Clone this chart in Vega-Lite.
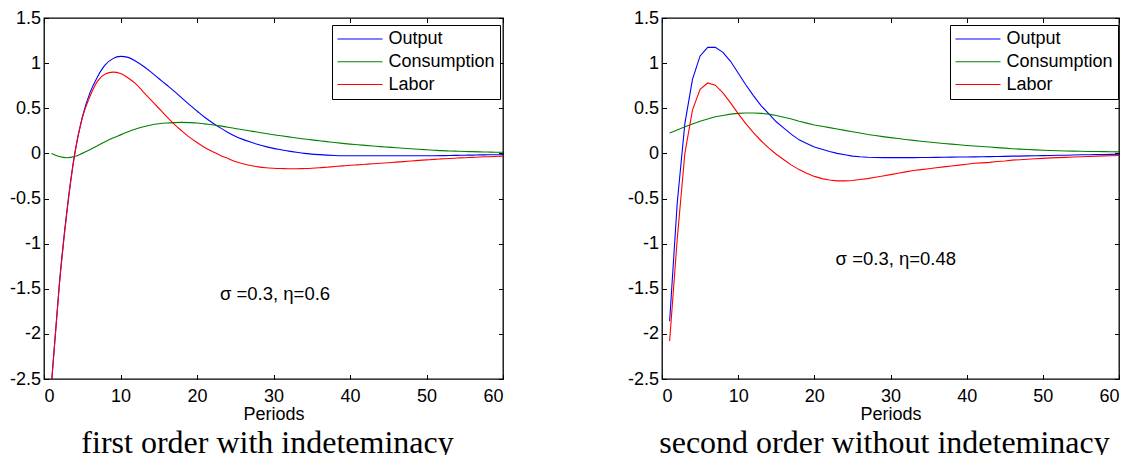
{
  "$schema": "https://vega.github.io/schema/vega-lite/v6.json",
  "background": "white",
  "padding": {"left": 8, "top": 8, "right": 5, "bottom": 0},
  "datasets": {
    "first": [
      {"p":1,"Output":-2.52,"Consumption":0.0,"Labor":-2.53},
      {"p":2,"Output":-1.45,"Consumption":-0.035,"Labor":-1.47},
      {"p":3,"Output":-0.63,"Consumption":-0.048,"Labor":-0.65},
      {"p":4,"Output":-0.01,"Consumption":-0.035,"Labor":-0.02},
      {"p":5,"Output":0.40,"Consumption":0.0,"Labor":0.39},
      {"p":6,"Output":0.67,"Consumption":0.04,"Labor":0.63},
      {"p":7,"Output":0.85,"Consumption":0.085,"Labor":0.80},
      {"p":8,"Output":0.98,"Consumption":0.13,"Labor":0.88},
      {"p":9,"Output":1.05,"Consumption":0.17,"Labor":0.90},
      {"p":10,"Output":1.075,"Consumption":0.205,"Labor":0.885},
      {"p":11,"Output":1.064,"Consumption":0.24,"Labor":0.835},
      {"p":12,"Output":1.02,"Consumption":0.27,"Labor":0.77},
      {"p":13,"Output":0.965,"Consumption":0.295,"Labor":0.68},
      {"p":14,"Output":0.90,"Consumption":0.315,"Labor":0.59},
      {"p":15,"Output":0.83,"Consumption":0.328,"Labor":0.50},
      {"p":16,"Output":0.76,"Consumption":0.336,"Labor":0.41},
      {"p":17,"Output":0.69,"Consumption":0.341,"Labor":0.325},
      {"p":18,"Output":0.615,"Consumption":0.343,"Labor":0.25},
      {"p":19,"Output":0.54,"Consumption":0.341,"Labor":0.18},
      {"p":20,"Output":0.47,"Consumption":0.337,"Labor":0.12},
      {"p":21,"Output":0.40,"Consumption":0.327,"Labor":0.065},
      {"p":22,"Output":0.34,"Consumption":0.318,"Labor":0.02},
      {"p":23,"Output":0.285,"Consumption":0.305,"Labor":-0.02},
      {"p":24,"Output":0.235,"Consumption":0.29,"Labor":-0.055},
      {"p":25,"Output":0.19,"Consumption":0.276,"Labor":-0.09},
      {"p":26,"Output":0.155,"Consumption":0.262,"Labor":-0.115},
      {"p":27,"Output":0.125,"Consumption":0.248,"Labor":-0.135},
      {"p":28,"Output":0.098,"Consumption":0.234,"Labor":-0.15},
      {"p":29,"Output":0.075,"Consumption":0.22,"Labor":-0.16},
      {"p":30,"Output":0.055,"Consumption":0.207,"Labor":-0.165},
      {"p":31,"Output":0.04,"Consumption":0.195,"Labor":-0.168},
      {"p":32,"Output":0.025,"Consumption":0.183,"Labor":-0.17},
      {"p":33,"Output":0.012,"Consumption":0.171,"Labor":-0.17},
      {"p":34,"Output":0.0,"Consumption":0.16,"Labor":-0.168},
      {"p":35,"Output":-0.008,"Consumption":0.15,"Labor":-0.165},
      {"p":36,"Output":-0.014,"Consumption":0.14,"Labor":-0.16},
      {"p":37,"Output":-0.019,"Consumption":0.13,"Labor":-0.153},
      {"p":38,"Output":-0.023,"Consumption":0.12,"Labor":-0.146},
      {"p":39,"Output":-0.026,"Consumption":0.111,"Labor":-0.139},
      {"p":40,"Output":-0.027,"Consumption":0.103,"Labor":-0.132},
      {"p":41,"Output":-0.027,"Consumption":0.096,"Labor":-0.127},
      {"p":42,"Output":-0.027,"Consumption":0.089,"Labor":-0.121},
      {"p":43,"Output":-0.027,"Consumption":0.082,"Labor":-0.115},
      {"p":44,"Output":-0.027,"Consumption":0.075,"Labor":-0.11},
      {"p":45,"Output":-0.027,"Consumption":0.069,"Labor":-0.104},
      {"p":46,"Output":-0.027,"Consumption":0.063,"Labor":-0.097},
      {"p":47,"Output":-0.027,"Consumption":0.057,"Labor":-0.091},
      {"p":48,"Output":-0.027,"Consumption":0.051,"Labor":-0.084},
      {"p":49,"Output":-0.027,"Consumption":0.045,"Labor":-0.078},
      {"p":50,"Output":-0.027,"Consumption":0.04,"Labor":-0.072},
      {"p":51,"Output":-0.026,"Consumption":0.035,"Labor":-0.066},
      {"p":52,"Output":-0.025,"Consumption":0.03,"Labor":-0.061},
      {"p":53,"Output":-0.024,"Consumption":0.027,"Labor":-0.056},
      {"p":54,"Output":-0.022,"Consumption":0.024,"Labor":-0.052},
      {"p":55,"Output":-0.02,"Consumption":0.021,"Labor":-0.048},
      {"p":56,"Output":-0.019,"Consumption":0.019,"Labor":-0.044},
      {"p":57,"Output":-0.017,"Consumption":0.017,"Labor":-0.04},
      {"p":58,"Output":-0.016,"Consumption":0.015,"Labor":-0.037},
      {"p":59,"Output":-0.015,"Consumption":0.013,"Labor":-0.034},
      {"p":60,"Output":-0.014,"Consumption":0.012,"Labor":-0.031}
    ],
    "second": [
      {"p":1,"Output":-1.86,"Consumption":0.226,"Labor":-2.08},
      {"p":2,"Output":-0.55,"Consumption":0.26,"Labor":-0.95},
      {"p":3,"Output":0.33,"Consumption":0.295,"Labor":0.0},
      {"p":4,"Output":0.82,"Consumption":0.325,"Labor":0.48},
      {"p":5,"Output":1.08,"Consumption":0.355,"Labor":0.71},
      {"p":6,"Output":1.175,"Consumption":0.38,"Labor":0.78},
      {"p":7,"Output":1.175,"Consumption":0.405,"Labor":0.755},
      {"p":8,"Output":1.12,"Consumption":0.42,"Labor":0.67},
      {"p":9,"Output":1.02,"Consumption":0.435,"Labor":0.56},
      {"p":10,"Output":0.89,"Consumption":0.443,"Labor":0.44},
      {"p":11,"Output":0.76,"Consumption":0.448,"Labor":0.33},
      {"p":12,"Output":0.64,"Consumption":0.447,"Labor":0.23},
      {"p":13,"Output":0.53,"Consumption":0.443,"Labor":0.14},
      {"p":14,"Output":0.44,"Consumption":0.435,"Labor":0.06},
      {"p":15,"Output":0.35,"Consumption":0.42,"Labor":-0.01},
      {"p":16,"Output":0.28,"Consumption":0.40,"Labor":-0.07},
      {"p":17,"Output":0.21,"Consumption":0.38,"Labor":-0.13},
      {"p":18,"Output":0.15,"Consumption":0.355,"Labor":-0.18},
      {"p":19,"Output":0.11,"Consumption":0.335,"Labor":-0.22},
      {"p":20,"Output":0.07,"Consumption":0.315,"Labor":-0.255},
      {"p":21,"Output":0.045,"Consumption":0.30,"Labor":-0.28},
      {"p":22,"Output":0.02,"Consumption":0.285,"Labor":-0.295},
      {"p":23,"Output":0.0,"Consumption":0.27,"Labor":-0.305},
      {"p":24,"Output":-0.015,"Consumption":0.255,"Labor":-0.305},
      {"p":25,"Output":-0.03,"Consumption":0.24,"Labor":-0.30},
      {"p":26,"Output":-0.038,"Consumption":0.225,"Labor":-0.29},
      {"p":27,"Output":-0.043,"Consumption":0.21,"Labor":-0.28},
      {"p":28,"Output":-0.045,"Consumption":0.198,"Labor":-0.265},
      {"p":29,"Output":-0.047,"Consumption":0.186,"Labor":-0.25},
      {"p":30,"Output":-0.047,"Consumption":0.175,"Labor":-0.235},
      {"p":31,"Output":-0.047,"Consumption":0.164,"Labor":-0.22},
      {"p":32,"Output":-0.047,"Consumption":0.154,"Labor":-0.205},
      {"p":33,"Output":-0.047,"Consumption":0.144,"Labor":-0.19},
      {"p":34,"Output":-0.046,"Consumption":0.135,"Labor":-0.18},
      {"p":35,"Output":-0.045,"Consumption":0.126,"Labor":-0.17},
      {"p":36,"Output":-0.044,"Consumption":0.118,"Labor":-0.16},
      {"p":37,"Output":-0.043,"Consumption":0.11,"Labor":-0.15},
      {"p":38,"Output":-0.042,"Consumption":0.102,"Labor":-0.14},
      {"p":39,"Output":-0.041,"Consumption":0.095,"Labor":-0.13},
      {"p":40,"Output":-0.04,"Consumption":0.088,"Labor":-0.12},
      {"p":41,"Output":-0.039,"Consumption":0.082,"Labor":-0.11},
      {"p":42,"Output":-0.037,"Consumption":0.076,"Labor":-0.105},
      {"p":43,"Output":-0.036,"Consumption":0.07,"Labor":-0.1},
      {"p":44,"Output":-0.034,"Consumption":0.064,"Labor":-0.09},
      {"p":45,"Output":-0.033,"Consumption":0.058,"Labor":-0.085},
      {"p":46,"Output":-0.031,"Consumption":0.052,"Labor":-0.075},
      {"p":47,"Output":-0.03,"Consumption":0.047,"Labor":-0.07},
      {"p":48,"Output":-0.028,"Consumption":0.043,"Labor":-0.065},
      {"p":49,"Output":-0.026,"Consumption":0.039,"Labor":-0.06},
      {"p":50,"Output":-0.025,"Consumption":0.035,"Labor":-0.055},
      {"p":51,"Output":-0.023,"Consumption":0.032,"Labor":-0.05},
      {"p":52,"Output":-0.021,"Consumption":0.029,"Labor":-0.047},
      {"p":53,"Output":-0.02,"Consumption":0.027,"Labor":-0.044},
      {"p":54,"Output":-0.018,"Consumption":0.025,"Labor":-0.04},
      {"p":55,"Output":-0.016,"Consumption":0.023,"Labor":-0.037},
      {"p":56,"Output":-0.015,"Consumption":0.021,"Labor":-0.034},
      {"p":57,"Output":-0.013,"Consumption":0.02,"Labor":-0.031},
      {"p":58,"Output":-0.012,"Consumption":0.019,"Labor":-0.028},
      {"p":59,"Output":-0.011,"Consumption":0.018,"Labor":-0.026},
      {"p":60,"Output":-0.01,"Consumption":0.017,"Labor":-0.024}
    ]
  },
  "bounds": "flush",
  "spacing": 159,
  "hconcat": [
    {
      "width": 459,
      "height": 361,
      "title": {"text": "first order with indeteminacy", "orient": "bottom", "font": "Liberation Serif", "fontSize": 32, "fontWeight": "normal", "color": "black", "dx": -6, "offset": 4},
      "data": {"name": "first"},
      "transform": [{"fold": ["Output", "Consumption", "Labor"], "as": ["series", "value"]}],
      "layer": [
        {
          "mark": {"type": "line", "strokeWidth": 1.1, "clip": true, "interpolate": "monotone"},
          "encoding": {
            "x": {"field": "p", "type": "quantitative", "scale": {"domain": [0, 60], "nice": false},
                  "axis": {"orient": "bottom", "values": [0,10,20,30,40,50,60], "title": "Periods", "labelPadding": 13}},
            "y": {"field": "value", "type": "quantitative", "scale": {"domain": [-2.5, 1.5], "nice": false, "zero": false},
                  "axis": {"orient": "left", "values": [-2.5,-2,-1.5,-1,-0.5,0,0.5,1,1.5], "title": null, "labelPadding": 8,
                           "labelExpr": "datum.value < 0 ? '-' + format(-datum.value, '~g') : format(datum.value, '~g')"}},
            "color": {"field": "series", "type": "nominal",
                      "scale": {"domain": ["Output", "Consumption", "Labor"], "range": ["#0000ff", "#008000", "#ff0000"]},
                      "legend": {"orient": "none", "legendX": 288, "legendY": 7, "title": null}}
          }
        },
        {
          "data": {"values": [{"label": "σ =0.3, η=0.6", "p": 30.2, "value": -1.56}]},
          "mark": {"type": "text", "font": "Liberation Sans", "fontSize": 18.5, "color": "black"},
          "encoding": {
            "x": {"field": "p", "type": "quantitative", "axis": null},
            "y": {"field": "value", "type": "quantitative", "axis": null},
            "text": {"field": "label"}
          }
        },
        {
          "mark": {"type": "point", "opacity": 0},
          "encoding": {
            "x": {"field": "p", "type": "quantitative",
                  "axis": {"orient": "top", "values": [0,10,20,30,40,50,60], "labels": false, "title": null}},
            "y": {"field": "value", "type": "quantitative",
                  "axis": {"orient": "right", "values": [-2.5,-2,-1.5,-1,-0.5,0,0.5,1,1.5], "labels": false, "title": null}}
          }
        }
      ],
      "resolve": {"axis": {"x": "independent", "y": "independent"}}
    },
    {
      "width": 457,
      "height": 361,
      "title": {"text": "second order without indeteminacy", "orient": "bottom", "font": "Liberation Serif", "fontSize": 32, "fontWeight": "normal", "color": "black", "dx": -6, "offset": 4},
      "data": {"name": "second"},
      "transform": [{"fold": ["Output", "Consumption", "Labor"], "as": ["series", "value"]}],
      "layer": [
        {
          "mark": {"type": "line", "strokeWidth": 1.1, "clip": true},
          "encoding": {
            "x": {"field": "p", "type": "quantitative", "scale": {"domain": [0, 60], "nice": false},
                  "axis": {"orient": "bottom", "values": [0,10,20,30,40,50,60], "title": "Periods", "labelPadding": 13}},
            "y": {"field": "value", "type": "quantitative", "scale": {"domain": [-2.5, 1.5], "nice": false, "zero": false},
                  "axis": {"orient": "left", "values": [-2.5,-2,-1.5,-1,-0.5,0,0.5,1,1.5], "title": null, "labelPadding": 8,
                           "labelExpr": "datum.value < 0 ? '-' + format(-datum.value, '~g') : format(datum.value, '~g')"}},
            "color": {"field": "series", "type": "nominal",
                      "scale": {"domain": ["Output", "Consumption", "Labor"], "range": ["#0000ff", "#008000", "#ff0000"]},
                      "legend": {"orient": "none", "legendX": 288, "legendY": 7, "title": null}}
          }
        },
        {
          "data": {"values": [{"label": "σ =0.3, η=0.48", "p": 30.7, "value": -1.17}]},
          "mark": {"type": "text", "font": "Liberation Sans", "fontSize": 18.5, "color": "black"},
          "encoding": {
            "x": {"field": "p", "type": "quantitative", "axis": null},
            "y": {"field": "value", "type": "quantitative", "axis": null},
            "text": {"field": "label"}
          }
        },
        {
          "mark": {"type": "point", "opacity": 0},
          "encoding": {
            "x": {"field": "p", "type": "quantitative",
                  "axis": {"orient": "top", "values": [0,10,20,30,40,50,60], "labels": false, "title": null}},
            "y": {"field": "value", "type": "quantitative",
                  "axis": {"orient": "right", "values": [-2.5,-2,-1.5,-1,-0.5,0,0.5,1,1.5], "labels": false, "title": null}}
          }
        }
      ],
      "resolve": {"axis": {"x": "independent", "y": "independent"}}
    }
  ],
  "resolve": {"scale": {"color": "independent"}, "legend": {"color": "independent"}},
  "config": {
    "font": "Liberation Sans",
    "view": {"stroke": "black", "strokeWidth": 1.3},
    "axis": {
      "domain": false, "grid": false,
      "tickSize": -4.5, "tickColor": "black", "tickWidth": 1,
      "labelFont": "Liberation Sans", "labelFontSize": 18, "labelColor": "black", "labelPadding": 10,
      "titleFont": "Liberation Sans", "titleFontSize": 18, "titleFontWeight": "normal", "titleColor": "black", "titlePadding": 0,
      "minExtent": 0
    },
    "legend": {
      "strokeColor": "black", "fillColor": "white", "padding": 4.5,
      "symbolType": "stroke", "symbolSize": 2025, "symbolStrokeWidth": 1.1,
      "labelFont": "Liberation Sans", "labelFontSize": 18, "labelColor": "black", "labelOffset": 5,
      "clipHeight": 18.9, "rowPadding": 3.8
    }
  }
}
